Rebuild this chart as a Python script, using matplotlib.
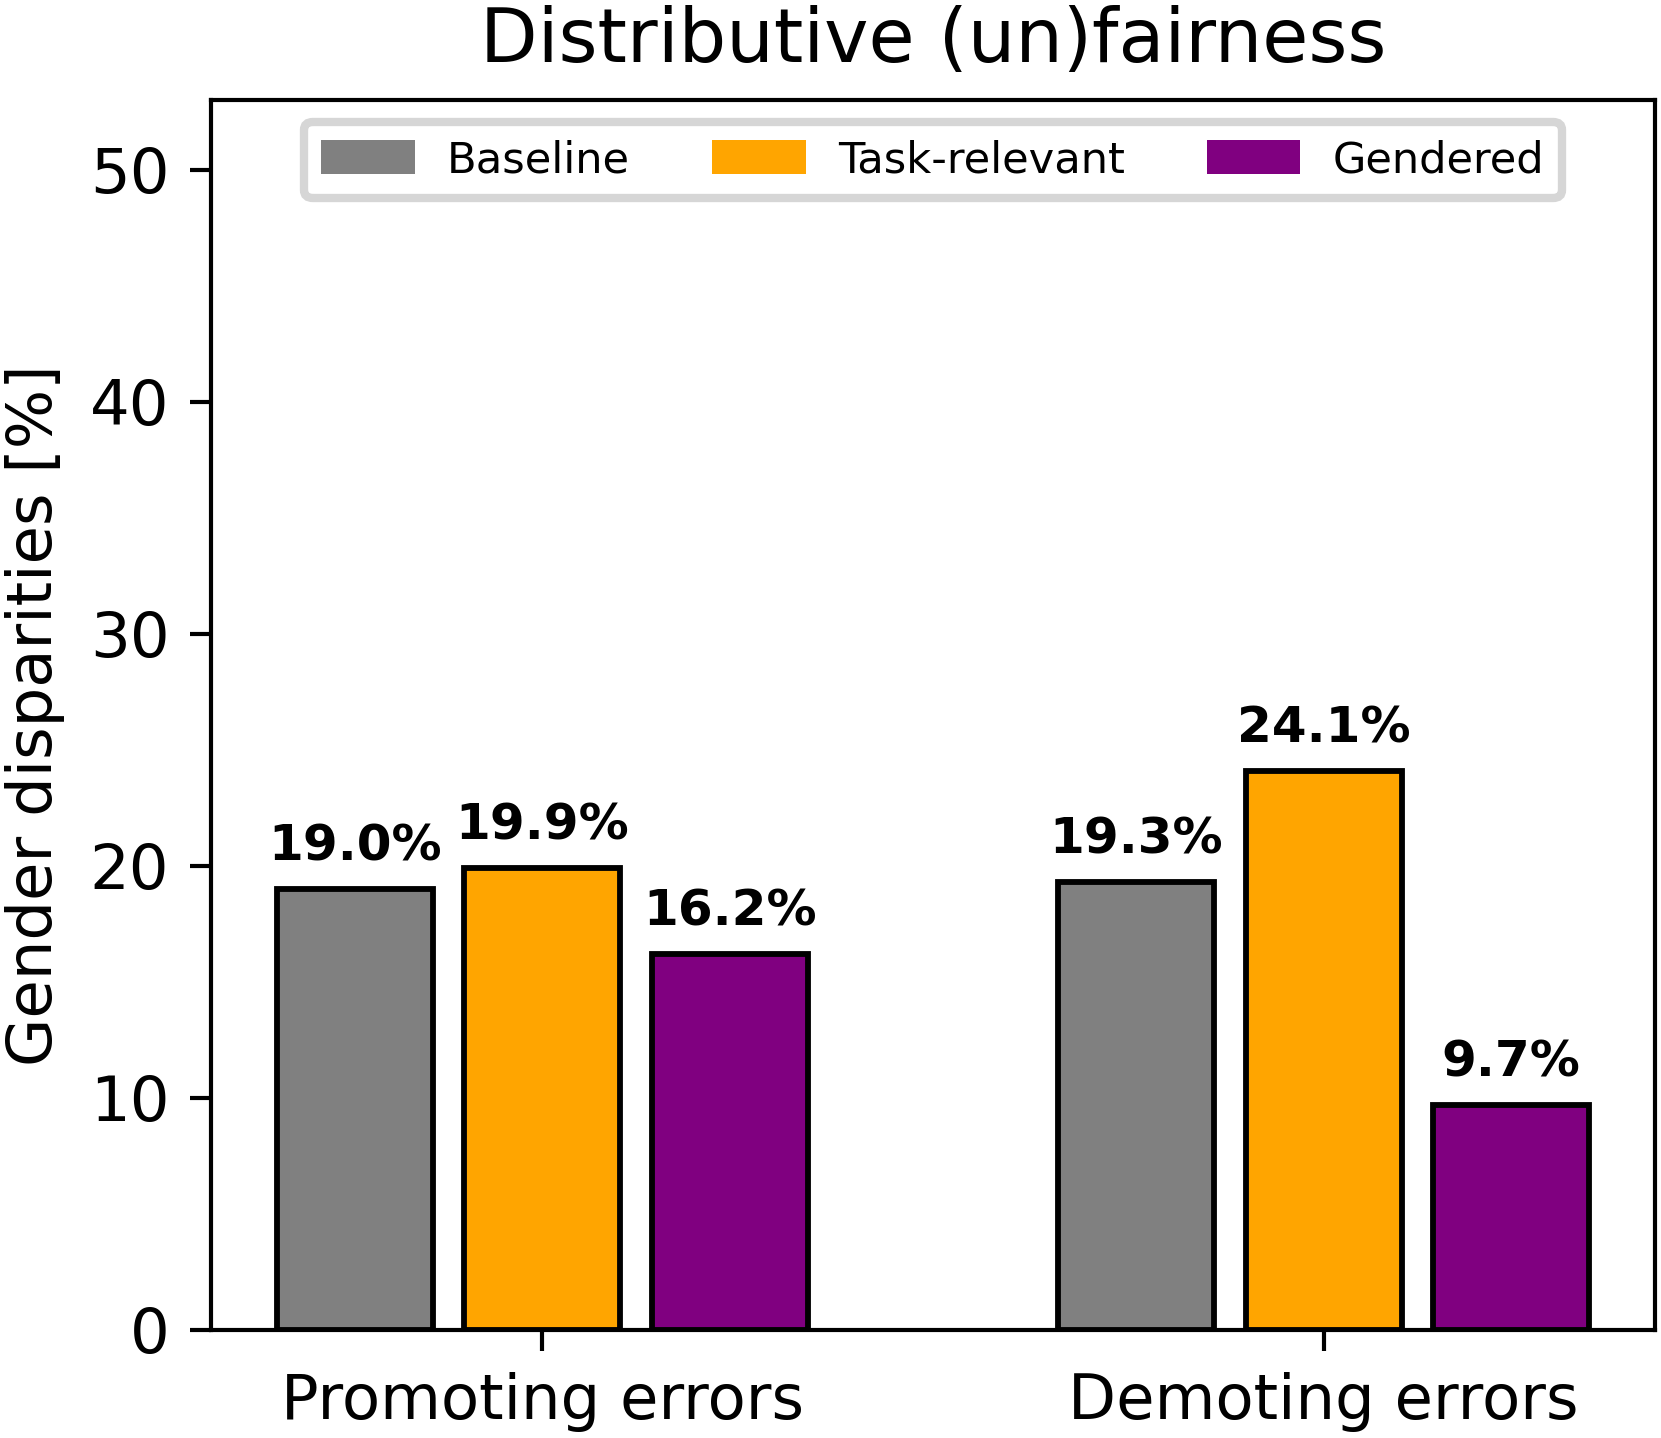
import matplotlib
matplotlib.use("Agg")
import matplotlib.pyplot as plt
from matplotlib.patches import Patch
import numpy as np

categories = ["Promoting errors", "Demoting errors"]
series_names = ["Baseline", "Task-relevant", "Gendered"]
baseline = [19.0, 19.3]
task_relevant = [19.9, 24.1]
gendered = [16.2, 9.7]
colors = ["gray", "orange", "purple"]

values = [baseline, task_relevant, gendered]

DPI = 300
fig = plt.figure(figsize=(1661 / DPI, 1438 / DPI), dpi=DPI)
ax = fig.add_axes([211 / 1661, 1 - 1330 / 1438, (1655 - 211) / 1661, (1330 - 100) / 1438])

x = np.arange(len(categories))
width = 0.2
offsets = [-0.24, 0.0, 0.24]
for vals, name, col, off in zip(values, series_names, colors, offsets):
    bars = ax.bar(x + off, vals, width, label=name, color=col,
                  edgecolor="black", linewidth=1.4)
    for b, v in zip(bars, vals):
        ax.text(b.get_x() + b.get_width() / 2, v + 0.8, f"{v:.1f}%",
                ha="center", va="bottom", fontsize=12, fontweight="bold")

ax.set_ylim(0, 53)
ax.set_yticks([0, 10, 20, 30, 40, 50])
ax.set_xticks(x)
ax.set_xticklabels(categories, fontsize=15)
ax.tick_params(axis="y", labelsize=15, length=5, width=1, pad=5)
ax.tick_params(axis="x", length=5, width=1, pad=5)
for s in ax.spines.values():
    s.set_linewidth(1.0)
ax.set_ylabel("Gender disparities [%]", fontsize=15, labelpad=6)
ax.set_title("Distributive (un)fairness", fontsize=18, pad=9)
handles = [Patch(facecolor=c, edgecolor="none", label=n) for c, n in zip(colors, series_names)]
leg = ax.legend(handles=handles, loc="upper center", ncol=3, fontsize=10.4, frameon=True,
                fancybox=True, edgecolor="#d6d6d6", framealpha=1,
                handlelength=2.15, handleheight=0.85, handletextpad=0.75,
                columnspacing=1.9)
leg.get_frame().set_linewidth(2)

fig.savefig("out.png", dpi=DPI)
